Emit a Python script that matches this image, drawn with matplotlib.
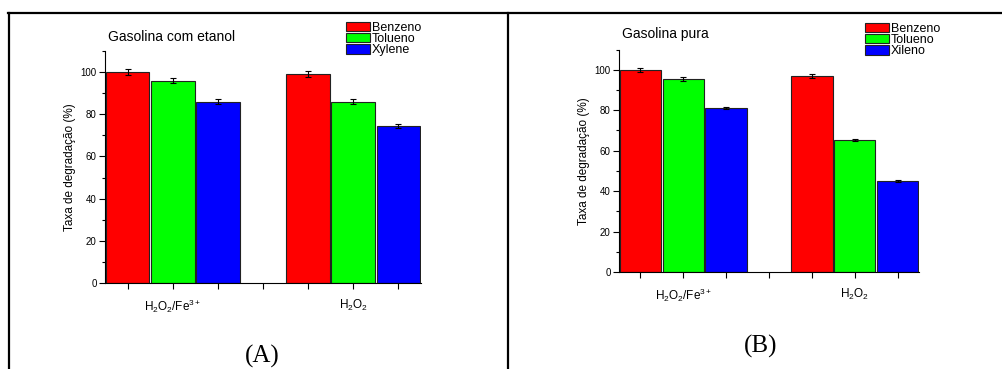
import numpy as np
import matplotlib.pyplot as plt
from matplotlib.patches import Patch
from matplotlib.lines import Line2D

plt.rcParams['font.family'] = ['Liberation Sans', 'DejaVu Sans']
plt.rcParams['mathtext.default'] = 'regular'

groups = [r'H$_2$O$_2$/Fe$^{3+}$', r'H$_2$O$_2$']
compounds_a = ['Benzeno', 'Tolueno', 'Xylene']
compounds_b = ['Benzeno', 'Tolueno', 'Xileno']
colors = ['#ff0000', '#00ff00', '#0000ff']

# panel A: gasolina com etanol (rows = compound, cols = group)
vals_a = [[100.0, 99.0], [96.0, 86.0], [86.0, 74.5]]
err_a = [[1.3, 1.3], [1.2, 1.1], [1.1, 0.9]]
# panel B: gasolina pura
vals_b = [[100.0, 97.0], [95.2, 65.5], [81.0, 45.0]]
err_b = [[0.9, 0.9], [1.0, 0.5], [0.6, 0.3]]

W, H = 1002, 369
fig = plt.figure(figsize=(W / 100, H / 100), dpi=100)

# frame around the two panels
fig.add_artist(Line2D([8 / W, 1], [1 - 13 / H, 1 - 13 / H], color='black', lw=1.6))
fig.add_artist(Line2D([9 / W, 9 / W], [0, 1 - 13 / H], color='black', lw=1.6))
fig.add_artist(Line2D([508 / W, 508 / W], [0, 1 - 13 / H], color='black', lw=1.6))


def panel(rect, vals, errs, names, title, title_xy, leg_xy, letter, letter_xy):
    ax = fig.add_axes(rect)
    for i in range(3):
        pos = [1 + i, 5 + i]
        ax.bar(pos, vals[i], width=0.97, color=colors[i], edgecolor='#222222',
               linewidth=0.8, label=names[i])
        ax.errorbar(pos, vals[i], yerr=errs[i], fmt='none', ecolor='black',
                    elinewidth=0.8, capsize=2.2, capthick=0.8)
    ax.set_xlim(0.5, 7.5)
    ax.set_ylim(0, 110)
    ax.set_yticks(np.arange(0, 101, 20))
    ax.set_yticks(np.arange(10, 111, 20), minor=True)
    ax.set_xticks(np.arange(1, 8))
    ax.set_xticklabels([])
    ax.tick_params(axis='y', which='major', length=4, width=0.8, labelsize=7, pad=2)
    ax.tick_params(axis='y', which='minor', length=2, width=0.8)
    ax.tick_params(axis='x', length=4, width=0.8)
    ax.spines['top'].set_visible(False)
    ax.spines['right'].set_visible(False)
    for s in ['left', 'bottom']:
        ax.spines[s].set_linewidth(0.8)
    ax.set_ylabel('Taxa de degradação (%)', fontsize=8.5, labelpad=3)
    for g, x in zip(groups, [2, 6]):
        ax.text(x, -0.065, g, transform=ax.get_xaxis_transform(), ha='center',
                va='top', fontsize=8.5)
    fig.text(title_xy[0] / W, 1 - title_xy[1] / H, title, fontsize=10,
             ha='left', va='center')
    handles = [Patch(facecolor=c, edgecolor='#222222', linewidth=0.8) for c in colors]
    fig.legend(handles, names, loc='upper left',
               bbox_to_anchor=(leg_xy[0] / W, 1 - leg_xy[1] / H),
               frameon=False, fontsize=9, handlelength=1.9, handleheight=0.78,
               labelspacing=-0.08, handletextpad=0.15, borderpad=0, borderaxespad=0)
    fig.text(letter_xy[0] / W, 1 - letter_xy[1] / H, letter, fontsize=18,
             family='Liberation Serif', ha='center', va='baseline')
    return ax


panel([105 / W, 86 / H, 316 / W, 232 / H], vals_a, err_a, compounds_a,
      'Gasolina com etanol', (108, 37), (346, 22), '(A)', (262, 363))
panel([619 / W, 97 / H, 300 / W, 222.5 / H], vals_b, err_b, compounds_b,
      'Gasolina pura', (622, 34), (865, 23), '(B)', (761, 353))

fig.savefig('out.png', dpi=100)
